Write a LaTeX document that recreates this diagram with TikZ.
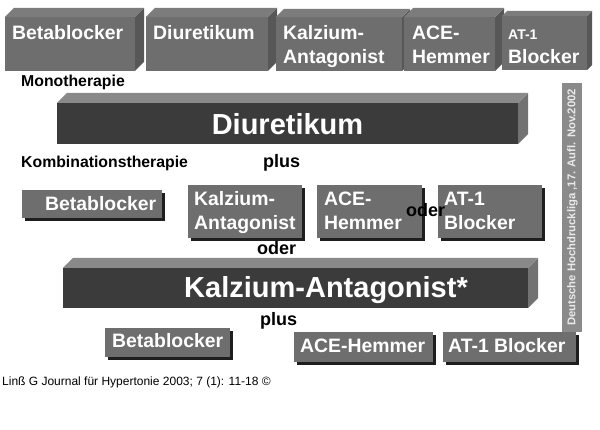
\documentclass[tikz,border=0pt]{standalone}
\usepackage{fontspec}
\setmainfont{Liberation Sans}
\definecolor{boxgray}{HTML}{6E6E6E}
\definecolor{boxtop}{HTML}{7C7C7C}
\definecolor{boxside}{HTML}{575757}
\definecolor{barfront}{HTML}{3B3B3B}
\definecolor{bartop}{HTML}{898989}
\definecolor{barside}{HTML}{727272}
\definecolor{shadowc}{HTML}{1E1E1E}
\definecolor{vbar}{HTML}{8A8A8A}
\definecolor{vtext}{HTML}{EAEAEA}
% #1 x1 #2 y1 #3 x2 #4 y2 #5 depth #6 front #7 top #8 side
\newcommand{\mycuboid}[8]{%
  \fill[#8] (#3,#2) -- ++(#5,-#5) -- ++(0,#4-#2) -- (#3,#4) -- cycle;
  \fill[#7] (#1,#2) -- ++(#5,-#5) -- ++(#3-#1,0) -- (#3,#2) -- cycle;
  \fill[#6] (#1,#2) rectangle (#3,#4);
}
\newcommand{\myflatbox}[4]{%
  \fill[shadowc] (#1+3,#2+3) rectangle (#3+3,#4+3);
  \fill[boxgray] (#1,#2) rectangle (#3,#4);
}
\tikzset{
  boxtext/.style={anchor=base west, inner sep=0pt, text=white,
    font=\bfseries\fontsize{19.4}{23.3}\selectfont},
  bartext/.style={anchor=base, inner sep=0pt, text=white,
    font=\bfseries\fontsize{29}{34}\selectfont},
  heading/.style={anchor=base west, inner sep=0pt, text=black,
    font=\bfseries\fontsize{15.8}{19}\selectfont},
  joiner/.style={anchor=base west, inner sep=0pt, text=black,
    font=\bfseries\fontsize{18}{21}\selectfont},
}
\begin{document}
\begin{tikzpicture}[x=1pt,y=-1pt]
\useasboundingbox (0,0) rectangle (600,430);
\fill[white] (0,0) rectangle (600,430);

% top row (Monotherapie)
\mycuboid{5}{17}{135}{71}{9}{boxgray}{boxtop}{boxside}
\mycuboid{146}{17}{268}{71}{9}{boxgray}{boxtop}{boxside}
\mycuboid{276}{17}{402}{71}{8}{boxgray}{boxtop}{boxside}
\mycuboid{404}{17}{495}{71}{9}{boxgray}{boxtop}{boxside}
\mycuboid{502}{16}{587}{70}{5}{boxgray}{boxtop}{boxside}
\node[boxtext] (m1) at (12,40) {Betablocker};
\node[boxtext] (m2) at (153,40) {Diuretikum};
\node[boxtext] (m3) at (283,40) {\vtop{\hbox{Kalzium-}\hbox{Antagonist}}};
\node[boxtext] (m4) at (412,40) {\vtop{\hbox{ACE-}\hbox{Hemmer}}};
\node[boxtext] (m5) at (508,40) {\vtop{\hbox{\fontsize{14}{17}\selectfont AT-1}\hbox{Blocker}}};

\node[heading] (mono) at (21,87) {Monotherapie};

% Diuretikum bar
\mycuboid{57}{103}{518}{144}{10}{barfront}{bartop}{barside}
\node[bartext] (diu) at (287.5,135) {Diuretikum};

\node[heading] (kombi) at (21,168) {Kombinationstherapie};
\node[joiner] (plus1) at (263,168) {plus};

% middle row
\myflatbox{22}{190}{162}{218}
\myflatbox{188}{185}{302}{238}
\myflatbox{317}{185}{422}{238}
\myflatbox{438}{185}{542}{238}
\node[boxtext] (k1) at (45,211) {Betablocker};
\node[boxtext] (k2) at (194,206) {\vtop{\hbox{Kalzium-}\hbox{Antagonist}}};
\node[boxtext] (k3) at (324,206) {\vtop{\hbox{ACE-}\hbox{Hemmer}}};
\node[boxtext] (k4) at (444,206) {\vtop{\hbox{AT-1}\hbox{Blocker}}};
\node[joiner] (oder1) at (406,217) {oder};
\node[joiner] (oder2) at (257,255) {oder};

% Kalzium-Antagonist bar
\mycuboid{63}{268}{528}{308}{10}{barfront}{bartop}{barside}
\node[bartext] (ka) at (326,298) {Kalzium-Antagonist*};

\node[joiner] (plus2) at (260,326) {plus};

% bottom row
\myflatbox{105}{328}{230}{357}
\myflatbox{294}{332}{433}{362}
\myflatbox{443}{332}{576}{362}
\node[boxtext] (b1) at (112,348) {Betablocker};
\node[boxtext] (b2) at (300,353) {ACE-Hemmer};
\node[boxtext] (b3) at (448,353) {AT-1 Blocker};

% vertical source label
\fill[vbar] (562,83) rectangle (582,332);
\node[inner sep=0pt, rotate=90, text=vtext, font=\bfseries\fontsize{11.3}{13}\selectfont] (src) at (572.5,207.5) {Deutsche Hochdruckliga ,17. Aufl. Nov.2002};

% footer
\node[anchor=base west, inner sep=0pt, text=black, font=\fontsize{12}{14}\selectfont] (foot) at (2,385) {Linß G Journal für Hypertonie 2003; 7 (1): 11-18 ©};
\end{tikzpicture}
\end{document}
